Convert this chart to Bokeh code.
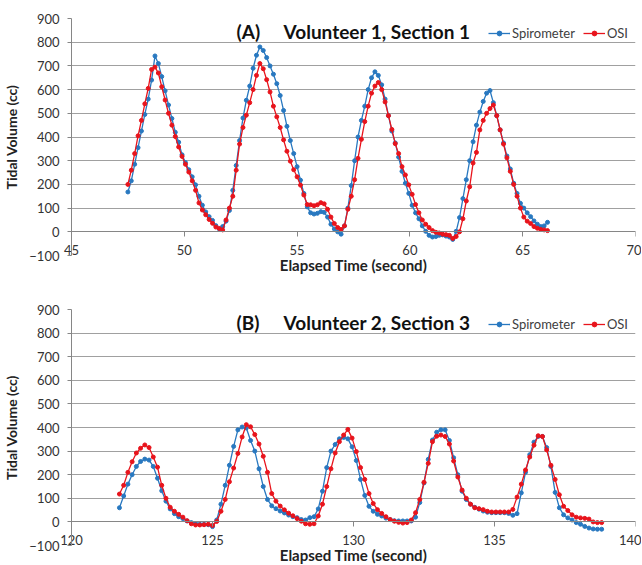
from bokeh.plotting import figure
from bokeh.models import (Range1d, LinearAxis, FixedTicker, Label, Legend, LegendItem)
from bokeh.layouts import column
from bokeh.embed import file_html
from bokeh.resources import INLINE

# ---------------- data ----------------
# Panel A : Volunteer 1, Section 1  (samples every 0.15 s starting at 47.5 s)
A_START = 47.5
A_STEP = 0.15
SPIRO_A = [168, 215, 285, 355, 425, 495, 560, 640, 742, 710,
           655, 595, 535, 478, 420, 378, 325, 292, 262, 232,
           198, 150, 112, 84, 64, 48, 26, 12, 22, 45,
           90, 175, 280, 385, 480, 555, 615, 690, 745, 780,
           765, 735, 700, 665, 625, 575, 512, 445, 385, 330,
           275, 218, 162, 105, 80, 75, 78, 85, 82, 62,
           32, 12, 0, -10, 25, 100, 195, 300, 400, 470,
           530, 600, 650, 675, 660, 620, 560, 490, 425, 375,
           315, 255, 205, 162, 112, 80, 55, 25, 2, -15,
           -22, -20, -15, -13, -18, -22, -32, 2, 60, 140,
           220, 300, 380, 450, 505, 550, 585, 596, 545, 490,
           430, 375, 320, 265, 205, 162, 120, 100, 80, 64,
           46, 32, 22, 25, 40]
OSI_A = [200, 260, 330, 405, 470, 540, 605, 685, 695, 670,
         612, 556, 500, 450, 402, 358, 318, 285, 252, 215,
         175, 122, 92, 72, 52, 36, 20, 14, 8, 50,
         100, 150, 260, 370, 440, 492, 545, 600, 660, 710,
         688, 642, 590, 530, 485, 440, 388, 340, 298, 262,
         232, 197, 155, 115, 114, 110, 114, 123, 118, 95,
         62, 35, 18, 10, 25, 95, 150, 220, 310, 390,
         465, 530, 585, 615, 630, 600, 548, 490, 432, 372,
         330, 275, 240, 198, 158, 115, 80, 50, 32, 18,
         5, -2, -5, -10, -12, -15, -28, -20, 0, 55,
         130, 190, 290, 335, 430, 470, 500, 520, 535, 490,
         430, 370, 312, 255, 200, 150, 100, 62, 45, 35,
         22, 15, 10, 8, 5]

# Panel B : Volunteer 2, Section 3  (samples every 0.15 s starting at 121.7 s)
B_START = 121.7
B_STEP = 0.15
SPIRO_B = [60, 110, 160, 200, 235, 256, 266, 262, 235, 185,
           132, 88, 55, 35, 22, 14, 4, -3, -7, -10,
           -10, -12, -20, 8, 75, 155, 240, 320, 390, 402,
           398, 345, 300, 225, 150, 95, 68, 56, 46, 38,
           29, 22, 18, 10, 8, 18, 22, 55, 130, 230,
           300, 328, 352, 358, 352, 318, 260, 180, 112, 66,
           45, 32, 25, 16, 10, 5, 4, 4, 4, 4,
           20, 82, 165, 265, 347, 380, 390, 390, 345, 272,
           200, 130, 95, 75, 62, 54, 46, 41, 39, 39,
           39, 39, 36, 28, 35, 123, 210, 285, 338, 362,
           362, 315, 235, 125, 60, 30, 17, 8, -3, -10,
           -19, -26, -30, -31, -31]
OSI_B = [118, 155, 210, 255, 292, 312, 326, 315, 275, 232,
         155, 100, 62, 45, 32, 20, 5, -8, -13, -13,
         -12, -10, -15, 2, 45, 95, 170, 228, 290, 360,
         412, 403, 370, 330, 278, 210, 120, 88, 67, 51,
         37, 26, 14, 3, -8, -10, -8, 25, 75, 150,
         225, 292, 340, 368, 392, 355, 298, 230, 180, 120,
         78, 52, 36, 22, 10, 3, -2, -5, -3, 8,
         39, 95, 168, 248, 340, 363, 368, 362, 330, 258,
         190, 135, 100, 75, 60, 56, 52, 45, 42, 42,
         42, 42, 42, 53, 105, 160, 220, 275, 325, 365,
         362, 305, 240, 180, 115, 66, 48, 30, 20, 17,
         15, 12, 0, -3, -3]

Y_TICKS = [-100, 0, 100, 200, 300, 400, 500, 600, 700, 800, 900]
X_TICKS_A = [45, 50, 55, 60, 65, 70]
X_TICKS_B = [120, 125, 130, 135, 140]

T_A = [round(A_START + A_STEP * i, 2) for i in range(len(SPIRO_A))]
T_B = [round(B_START + B_STEP * i, 2) for i in range(len(SPIRO_B))]

FONT = "Lato"
BLUE = "#2878c0"
RED = "#e8141c"
GRID = "#a0a0a0"
TXT = "#333333"


def make_panel(t, spiro, osi, xticks, tag, title, top_border, fh):
    p = figure(frame_width=564, frame_height=fh,
               x_range=Range1d(xticks[0], xticks[-1]), y_range=Range1d(-100, 900),
               output_backend="svg", toolbar_location=None,
               min_border_left=71, min_border_right=6,
               min_border_top=top_border, min_border_bottom=0)
    p.outline_line_color = None
    p.background_fill_color = "white"
    p.xgrid.visible = False

    # y axis
    ya = p.yaxis[0]
    ya.ticker = FixedTicker(ticks=Y_TICKS)
    ya.axis_line_color = "#868686"
    ya.major_tick_line_color = "#868686"
    ya.major_tick_out = 4
    ya.major_tick_in = 0
    ya.minor_tick_line_color = None
    ya.major_label_text_font = FONT
    ya.major_label_text_font_size = "13px"
    ya.major_label_text_color = TXT
    ya.major_label_standoff = 8
    ya.axis_label = "Tidal Volume (cc)"
    ya.axis_label_text_font = FONT
    ya.axis_label_text_font_size = "14px"
    ya.axis_label_text_font_style = "bold"
    ya.axis_label_text_color = "#222222"
    ya.axis_label_standoff = 6
    p.ygrid.grid_line_color = GRID
    p.ygrid.grid_line_width = 1.2

    # bottom axis: only tick labels (pulled up above the -100 line) and title
    xb = p.xaxis[0]
    xb.ticker = FixedTicker(ticks=xticks)
    xb.axis_line_color = None
    xb.major_tick_line_color = None
    xb.minor_tick_line_color = None
    xb.major_tick_out = 0
    xb.major_tick_in = 0
    xb.major_label_standoff = -11
    xb.major_label_text_font = FONT
    xb.major_label_text_font_size = "13px"
    xb.major_label_text_color = TXT
    xb.axis_label = "Elapsed Time (second)"
    xb.axis_label_text_font = FONT
    xb.axis_label_text_font_size = "15px"
    xb.axis_label_text_font_style = "bold"
    xb.axis_label_text_color = "#222222"
    xb.axis_label_standoff = -2

    # x axis line crossing at y = 0 with its ticks
    xa = LinearAxis(fixed_location=0, ticker=FixedTicker(ticks=xticks))
    xa.axis_line_color = "#868686"
    xa.major_tick_line_color = "#868686"
    xa.major_tick_out = 5
    xa.major_tick_in = 0
    xa.minor_tick_line_color = None
    xa.major_label_text_color = None
    p.add_layout(xa, "below")

    l1 = p.line(t, spiro, line_color=BLUE, line_width=1.3)
    s1 = p.scatter(t, spiro, marker="circle", size=4, fill_color=BLUE, line_color=BLUE)
    l2 = p.line(t, osi, line_color=RED, line_width=1.3)
    s2 = p.scatter(t, osi, marker="circle", size=4, fill_color=RED, line_color=RED)

    x0 = xticks[0]
    span = xticks[-1] - xticks[0]
    p.add_layout(Label(x=x0 + span * 0.2926, y=900, y_offset=-1, text=tag,
                       text_font=FONT, text_font_size="19px", text_font_style="bold",
                       text_color="#111111", text_baseline="top", text_align="left"))
    p.add_layout(Label(x=x0 + span * 0.376, y=900, y_offset=-1, text=title,
                       text_font=FONT, text_font_size="19px", text_font_style="bold",
                       text_color="#111111", text_baseline="top", text_align="left"))

    legend = Legend(items=[LegendItem(label="Spirometer", renderers=[l1, s1]),
                           LegendItem(label="OSI", renderers=[l2, s2])],
                    orientation="horizontal", location="top_right")
    legend.border_line_color = None
    legend.background_fill_alpha = 0
    legend.label_text_font = FONT
    legend.label_text_font_size = "13px"
    legend.label_text_color = "#404040"
    legend.glyph_width = 22
    legend.glyph_height = 12
    legend.label_standoff = 2
    legend.spacing = 8
    legend.padding = 2
    legend.margin = 7
    legend.label_height = 12
    p.add_layout(legend)
    return p


p1 = make_panel(T_A, SPIRO_A, OSI_A, X_TICKS_A, "(A)", "Volunteer 1, Section 1", 18, 237)
p2 = make_panel(T_B, SPIRO_B, OSI_B, X_TICKS_B, "(B)", "Volunteer 2, Section 3", 33, 236)

p = column(p1, p2, spacing=0)
open("out.html", "w").write(file_html(p, INLINE))
